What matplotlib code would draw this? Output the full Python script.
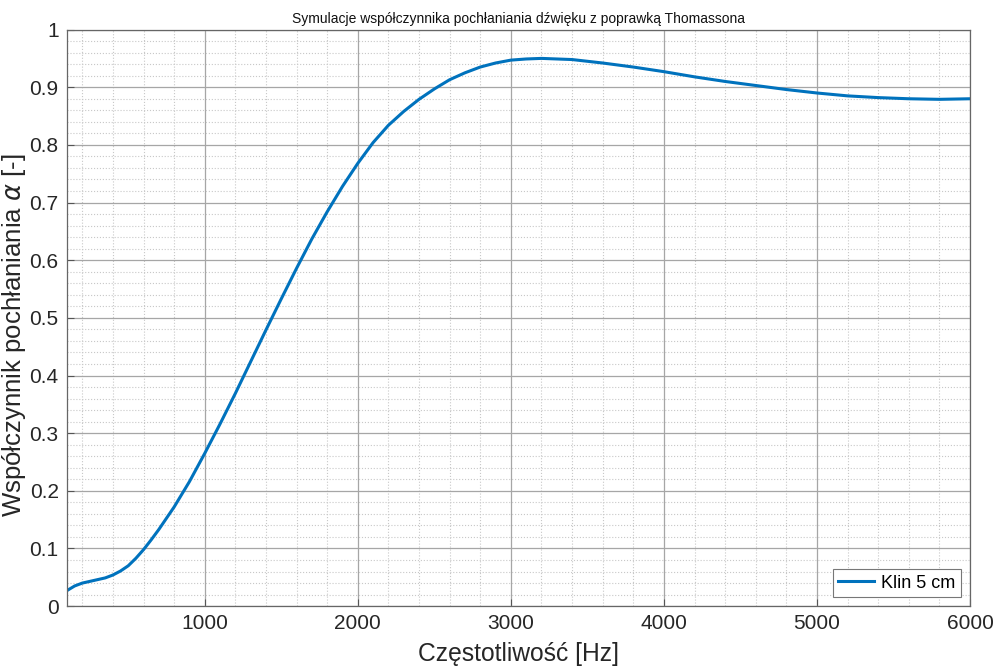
import numpy as np
import matplotlib
matplotlib.use('Agg')
import matplotlib.pyplot as plt
from matplotlib.ticker import MultipleLocator

# Values
freq = [100, 150, 200, 250, 300, 350, 400, 450, 500, 550, 600, 650, 700,
        800, 900, 1000, 1100, 1200, 1300, 1400, 1500, 1600, 1700, 1800,
        1900, 2000, 2100, 2200, 2300, 2400, 2500, 2600, 2700, 2800, 2900,
        3000, 3100, 3200, 3400, 3600, 3800, 4000, 4200, 4400, 4600, 4800,
        5000, 5200, 5400, 5600, 5800, 6000]
alpha = [0.027, 0.035, 0.040, 0.043, 0.046, 0.049, 0.054, 0.061, 0.070,
         0.083, 0.098, 0.115, 0.133, 0.172, 0.216, 0.265, 0.316, 0.369,
         0.424, 0.479, 0.533, 0.586, 0.637, 0.684, 0.728, 0.768, 0.804,
         0.834, 0.858, 0.879, 0.897, 0.913, 0.925, 0.935, 0.942, 0.947,
         0.949, 0.950, 0.948, 0.942, 0.935, 0.927, 0.918, 0.910, 0.903,
         0.896, 0.890, 0.885, 0.882, 0.880, 0.879, 0.880]

plt.rcParams['font.family'] = ['Liberation Sans', 'DejaVu Sans']

fig = plt.figure(figsize=(10, 6.72), dpi=100)
ax = fig.add_axes([0.067, 0.098, 0.903, 0.858])

ax.plot(freq, alpha, color='#0072BD', linewidth=2.2, label='Klin 5 cm')

ax.set_xlim(100, 6000)
ax.set_ylim(0, 1)
ax.xaxis.set_major_locator(MultipleLocator(1000))
ax.xaxis.set_minor_locator(MultipleLocator(200))
ax.yaxis.set_minor_locator(MultipleLocator(0.02))
ax.set_yticks(np.arange(0, 1.01, 0.1))
ax.set_yticklabels(['0', '0.1', '0.2', '0.3', '0.4', '0.5', '0.6', '0.7', '0.8', '0.9', '1'])

ax.grid(True, which='major', color='#a6a6a6', linewidth=0.9, linestyle='-')
ax.grid(True, which='minor', color='#c8c8c8', linewidth=0.8, linestyle=':')
ax.set_axisbelow(True)

ax.tick_params(which='major', direction='in', length=5, labelsize=15,
               color='#555555', labelcolor='#262626', pad=6)
ax.tick_params(which='minor', length=0)
for s in ax.spines.values():
    s.set_color('#666666')
    s.set_linewidth(0.9)

ax.set_xlabel('Częstotliwość [Hz]', fontsize=17.7, color='#262626', labelpad=6)
ax.set_ylabel(r'Współczynnik pochłaniania $\alpha$ [-]', fontsize=18.5,
              color='#262626', va='center')
ax.yaxis.set_label_coords(-0.059, 0.47)
ax.set_title('Symulacje współczynnika pochłaniania dźwięku z poprawką Thomassona',
             fontsize=10, color='#111111', pad=5)

leg = ax.legend(loc='lower right', fontsize=13, fancybox=False,
                framealpha=1, edgecolor='#777777', handlelength=2.0,
                handletextpad=0.4, borderpad=0.3, borderaxespad=0.5)
leg.get_frame().set_linewidth(0.8)

fig.savefig('out.png', dpi=100)
